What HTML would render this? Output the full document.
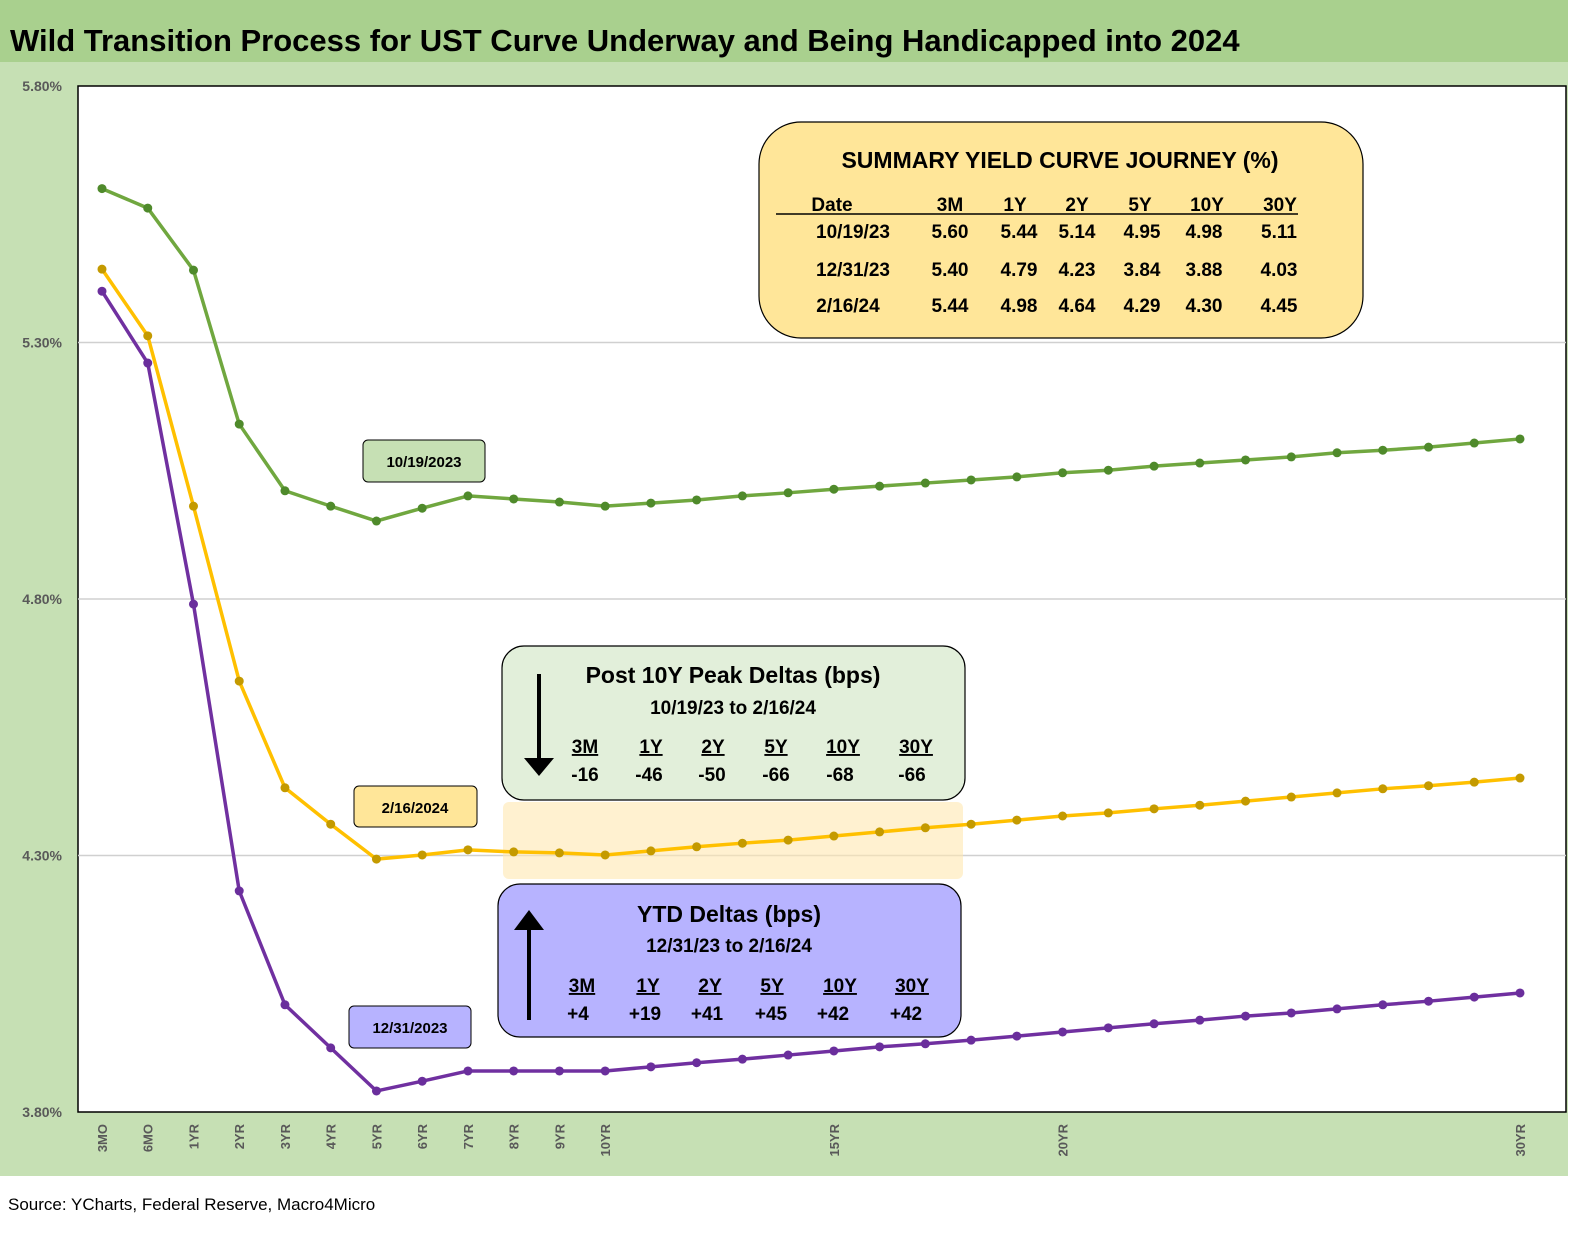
<!DOCTYPE html>
<html><head><meta charset="utf-8"><style>
body{margin:0;width:1576px;height:1232px;overflow:hidden;background:#fff;font-family:"Liberation Sans",sans-serif}
svg text{font-family:"Liberation Sans",sans-serif}
</style></head><body>
<svg id="chart" width="1576" height="1232" xmlns="http://www.w3.org/2000/svg">
<rect x="0" y="0" width="1576" height="1232" fill="#ffffff"/>
<rect x="0" y="62" width="1568" height="1114" fill="#c6e0b4"/>
<rect x="0" y="0" width="1568" height="62" fill="#a9d08e"/>
<text x="10" y="51" font-size="31" font-weight="bold" fill="#000">Wild Transition Process for UST Curve Underway and Being Handicapped into 2024</text>
<rect x="78" y="86" width="1488" height="1026" fill="#fff" stroke="#000" stroke-width="1.5"/>
<g id="grid"></g>
<g id="yticks"></g>
<g id="xticks"></g>
<rect x="503" y="802" width="460" height="77" rx="6" fill="#ffe7b0" opacity="0.6"/>
<g id="series"></g>
<g>
<rect x="759" y="122" width="604" height="216" rx="42" fill="#ffe699" stroke="#000" stroke-width="1.2"/>
<text x="1060" y="168" font-size="23" font-weight="bold" text-anchor="middle">SUMMARY YIELD CURVE JOURNEY (%)</text>
<line x1="776" y1="214" x2="1298" y2="214" stroke="#000" stroke-width="1.5"/>
<g font-size="19" font-weight="bold" text-anchor="middle">
<text x="832" y="211">Date</text><text x="950" y="211">3M</text><text x="1015" y="211">1Y</text><text x="1077" y="211">2Y</text><text x="1140" y="211">5Y</text><text x="1207" y="211">10Y</text><text x="1280" y="211">30Y</text>
<text x="853" y="238">10/19/23</text><text x="950" y="238">5.60</text><text x="1019" y="238">5.44</text><text x="1077" y="238">5.14</text><text x="1142" y="238">4.95</text><text x="1204" y="238">4.98</text><text x="1279" y="238">5.11</text>
<text x="853" y="276">12/31/23</text><text x="950" y="276">5.40</text><text x="1019" y="276">4.79</text><text x="1077" y="276">4.23</text><text x="1142" y="276">3.84</text><text x="1204" y="276">3.88</text><text x="1279" y="276">4.03</text>
<text x="848" y="312">2/16/24</text><text x="950" y="312">5.44</text><text x="1019" y="312">4.98</text><text x="1077" y="312">4.64</text><text x="1142" y="312">4.29</text><text x="1204" y="312">4.30</text><text x="1279" y="312">4.45</text>
</g></g>
<g>
<rect x="502" y="646" width="463" height="154" rx="22" fill="#e2efda" stroke="#000" stroke-width="1.2"/>
<line x1="539" y1="674" x2="539" y2="760" stroke="#000" stroke-width="4"/>
<polygon points="524,758 554,758 539,776" fill="#000"/>
<text x="733" y="683" font-size="23" font-weight="bold" text-anchor="middle">Post 10Y Peak Deltas (bps)</text>
<text x="733" y="714" font-size="19" font-weight="bold" text-anchor="middle">10/19/23 to 2/16/24</text>
<g font-size="19" font-weight="bold" text-anchor="middle">
<text x="585" y="753" text-decoration="underline">3M</text><text x="651" y="753" text-decoration="underline">1Y</text><text x="713" y="753" text-decoration="underline">2Y</text><text x="776" y="753" text-decoration="underline">5Y</text><text x="843" y="753" text-decoration="underline">10Y</text><text x="916" y="753" text-decoration="underline">30Y</text>
<text x="585" y="781">-16</text><text x="649" y="781">-46</text><text x="712" y="781">-50</text><text x="776" y="781">-66</text><text x="840" y="781">-68</text><text x="912" y="781">-66</text>
</g></g>
<g>
<rect x="498" y="884" width="463" height="153" rx="22" fill="#b7b3ff" stroke="#000" stroke-width="1.2"/>
<line x1="529" y1="1020" x2="529" y2="928" stroke="#000" stroke-width="4"/>
<polygon points="514,930 544,930 529,910" fill="#000"/>
<text x="729" y="922" font-size="23" font-weight="bold" text-anchor="middle">YTD Deltas (bps)</text>
<text x="729" y="952" font-size="19" font-weight="bold" text-anchor="middle">12/31/23 to 2/16/24</text>
<g font-size="19" font-weight="bold" text-anchor="middle">
<text x="582" y="992" text-decoration="underline">3M</text><text x="648" y="992" text-decoration="underline">1Y</text><text x="710" y="992" text-decoration="underline">2Y</text><text x="772" y="992" text-decoration="underline">5Y</text><text x="840" y="992" text-decoration="underline">10Y</text><text x="912" y="992" text-decoration="underline">30Y</text>
<text x="578" y="1020">+4</text><text x="645" y="1020">+19</text><text x="707" y="1020">+41</text><text x="771" y="1020">+45</text><text x="833" y="1020">+42</text><text x="906" y="1020">+42</text>
</g></g>
<g><rect x="363" y="440" width="122" height="42" rx="5" fill="#c6e0b4" stroke="#000"/><text x="424" y="467" font-size="15" font-weight="bold" text-anchor="middle">10/19/2023</text></g>
<g><rect x="354" y="786" width="123" height="41" rx="5" fill="#ffe699" stroke="#000"/><text x="415" y="813" font-size="15" font-weight="bold" text-anchor="middle">2/16/2024</text></g>
<g><rect x="349" y="1006" width="122" height="42" rx="5" fill="#b7b3ff" stroke="#000"/><text x="410" y="1033" font-size="15" font-weight="bold" text-anchor="middle">12/31/2023</text></g>
<text x="8" y="1210" font-size="17" fill="#000">Source: YCharts, Federal Reserve, Macro4Micro</text>
</svg>
<script>
const categories=["3MO","6MO","1YR","2YR","3YR","4YR","5YR","6YR","7YR","8YR","9YR","10YR","11YR","12YR","13YR","14YR","15YR","16YR","17YR","18YR","19YR","20YR","21YR","22YR","23YR","24YR","25YR","26YR","27YR","28YR","29YR","30YR"];
const shownLabels=["3MO","6MO","1YR","2YR","3YR","4YR","5YR","6YR","7YR","8YR","9YR","10YR","15YR","20YR","30YR"];
const yTicks=[3.8,4.3,4.8,5.3,5.8];
const yTickLabels=["3.80%","4.30%","4.80%","5.30%","5.80%"];
const oct19=[5.60,5.562,5.441,5.141,5.011,4.981,4.952,4.977,5.001,4.995,4.989,4.981,4.987,4.993,5.001,5.007,5.014,5.020,5.026,5.032,5.038,5.046,5.051,5.059,5.065,5.071,5.077,5.085,5.090,5.096,5.104,5.112];
const feb16=[5.443,5.313,4.981,4.640,4.432,4.361,4.293,4.301,4.311,4.307,4.305,4.301,4.309,4.317,4.324,4.330,4.338,4.346,4.354,4.361,4.369,4.377,4.383,4.391,4.398,4.406,4.414,4.422,4.430,4.436,4.443,4.451];
const dec31=[5.40,5.260,4.790,4.231,4.009,3.925,3.841,3.860,3.880,3.880,3.880,3.880,3.888,3.896,3.903,3.911,3.919,3.927,3.933,3.940,3.948,3.956,3.964,3.972,3.979,3.987,3.993,4.001,4.009,4.016,4.024,4.032];
const NS="http://www.w3.org/2000/svg";
const x=i=>102+i*(1520-102)/(categories.length-1);
const y=v=>1112-(v-3.8)/(5.8-3.8)*(1112-86);
function mk(tag,attrs,parent){const e=document.createElementNS(NS,tag);for(const k in attrs)e.setAttribute(k,attrs[k]);parent.appendChild(e);return e;}
const grid=document.getElementById('grid'),yt=document.getElementById('yticks'),xt=document.getElementById('xticks'),ser=document.getElementById('series');
yTicks.forEach((v,i)=>{
  if(i>0&&i<yTicks.length-1){const l=mk('line',{x1:78,x2:1566,y1:y(v),y2:y(v),stroke:'#d0d0d0','stroke-width':1.5},grid);
  
  }
  const t=mk('text',{x:62,y:y(v)+5,'font-size':14,'font-weight':'bold','text-anchor':'end',fill:'#595959'},yt);t.textContent=yTickLabels[i];
  
  
});
categories.forEach((c,i)=>{
  if(shownLabels.indexOf(c)<0)return;
  const t=mk('text',{x:0,y:0,'font-size':13,'font-weight':'bold',fill:'#595959','text-anchor':'end',transform:`translate(${x(i)+5},${1124}) rotate(-90)`},xt);t.textContent=c;
  
  
});
function series(data,line,dot,name){
  const g=mk('g',{},ser);
  
  
  mk('polyline',{points:data.map((v,i)=>x(i)+','+y(v)).join(' '),fill:'none',stroke:line,'stroke-width':3.5,'stroke-linejoin':'round'},g);
  data.forEach((v,i)=>{const c=mk('circle',{cx:x(i),cy:y(v),r:4.5,fill:dot},g);
  
  });
}
series(oct19,'#70a73f','#4f8a2b','series-10-19-2023');
series(feb16,'#ffc000','#c49a00','series-2-16-2024');
series(dec31,'#7030a0','#6a2e9c','series-12-31-2023');
</script>
</body></html>
